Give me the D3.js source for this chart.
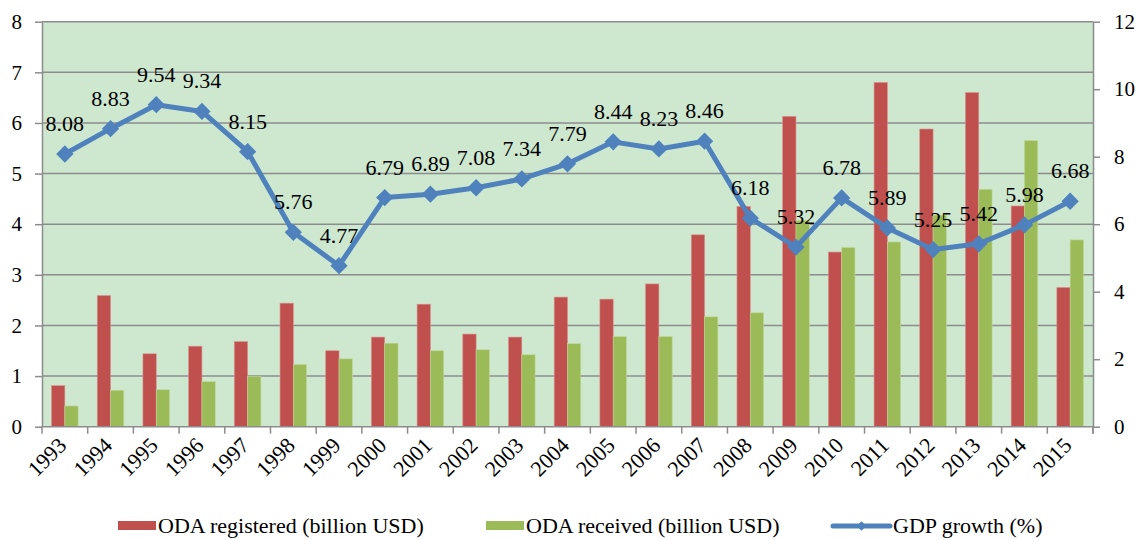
<!DOCTYPE html>
<html>
<head>
<meta charset="utf-8">
<script src="https://cdn.jsdelivr.net/npm/d3@7"></script>
<style>
  body { margin: 0; background: #fff; }
  svg text { font-family: "Liberation Serif", "Tinos", "Times New Roman", "DejaVu Serif", serif !important; fill: #000; }
  .domain { stroke: #8c8c8c; stroke-width: 1.5; }
  .tick line { stroke: #8c8c8c; stroke-width: 1.5; }
</style>
</head>
<body>
<div id="chart"></div>
<script>
// data
var years = ["1993", "1994", "1995", "1996", "1997", "1998", "1999", "2000", "2001", "2002", "2003",
  "2004", "2005", "2006", "2007", "2008", "2009", "2010", "2011", "2012", "2013", "2014", "2015"];
var odaRegistered = [0.81, 2.59, 1.44, 1.59, 1.68, 2.44, 1.50, 1.77, 2.42, 1.83, 1.77,
  2.56, 2.52, 2.82, 3.79, 4.35, 6.13, 3.45, 6.80, 5.88, 6.60, 4.36, 2.75];
var odaReceived = [0.41, 0.72, 0.73, 0.89, 0.99, 1.23, 1.34, 1.65, 1.50, 1.52, 1.42,
  1.64, 1.78, 1.78, 2.17, 2.25, 4.07, 3.54, 3.65, 4.18, 4.69, 5.65, 3.69];
var gdpGrowth = [8.08, 8.83, 9.54, 9.34, 8.15, 5.76, 4.77, 6.79, 6.89, 7.08, 7.34,
  7.79, 8.44, 8.23, 8.46, 6.18, 5.32, 6.78, 5.89, 5.25, 5.42, 5.98, 6.68];
var leftTicks = [0, 1, 2, 3, 4, 5, 6, 7, 8];
var rightTicks = [0, 2, 4, 6, 8, 10, 12];
var seriesNames = ["ODA registered (billion USD)", "ODA received (billion USD)", "GDP growth (%)"];

var svgWidth = 1139;
var svgHeight = 540;
var margin = { top: 21.7, right: 46, bottom: 113.3, left: 42 };
var width = svgWidth - margin.left - margin.right;
var height = svgHeight - margin.top - margin.bottom;

var colors = { reg: "#C0504D", rec: "#9BBB59", gdp: "#4F81BD" };

var svg = d3.select("#chart").append("svg")
  .attr("width", svgWidth)
  .attr("height", svgHeight);

var chartGroup = svg.append("g")
  .attr("transform", `translate(${margin.left}, ${margin.top})`);

// scales
var x0 = d3.scaleBand().domain(years).range([0, width]).paddingInner(0.418).paddingOuter(0.209);
var x1 = d3.scaleBand().domain(["reg", "rec"]).range([0, x0.bandwidth()]);
var yLeft = d3.scaleLinear().domain([0, 8]).range([height, 0]);
var yRight = d3.scaleLinear().domain([0, 12]).range([height, 0]);
var step = x0.step();
var xc = d => x0(d) + x0.bandwidth() / 2;

// plot background
chartGroup.append("rect")
  .attr("width", width)
  .attr("height", height)
  .attr("fill", "#CDE8CF");

// gridlines
chartGroup.append("g").selectAll("line")
  .data(leftTicks.slice(1))
  .enter()
  .append("line")
  .attr("x1", 0)
  .attr("x2", width)
  .attr("y1", d => yLeft(d))
  .attr("y2", d => yLeft(d))
  .attr("stroke", "#8c8c8c")
  .attr("stroke-width", 1.5);

// bars
var groups = chartGroup.selectAll(".yr")
  .data(years)
  .enter()
  .append("g")
  .attr("transform", d => `translate(${x0(d)}, 0)`);

groups.append("rect")
  .attr("x", x1("reg"))
  .attr("width", x1.bandwidth())
  .attr("y", (d, i) => yLeft(odaRegistered[i]))
  .attr("height", (d, i) => height - yLeft(odaRegistered[i]))
  .attr("fill", colors.reg)
  .attr("stroke", "#d98f8d")
  .attr("stroke-width", 0.6);

groups.append("rect")
  .attr("x", x1("rec"))
  .attr("width", x1.bandwidth())
  .attr("y", (d, i) => yLeft(odaReceived[i]))
  .attr("height", (d, i) => height - yLeft(odaReceived[i]))
  .attr("fill", colors.rec)
  .attr("stroke", "#c2d89a")
  .attr("stroke-width", 0.6);

// axes
var leftAxis = d3.axisLeft(yLeft).tickValues(leftTicks).tickSize(7).tickSizeOuter(0).tickPadding(13);
var rightAxis = d3.axisRight(yRight).tickValues(rightTicks).tickSize(7).tickSizeOuter(0).tickPadding(14);
var bottomAxis = d3.axisBottom(x0).tickSize(7).tickSizeOuter(0);

var yAxisL = chartGroup.append("g").call(leftAxis);
var yAxisR = chartGroup.append("g")
  .attr("transform", `translate(${width}, 0)`)
  .call(rightAxis);
[yAxisL, yAxisR].forEach(function(a) {
  a.attr("font-family", null);
  a.selectAll("text").style("font-size", "21px");
});

var xAxis = chartGroup.append("g")
  .attr("transform", `translate(0, ${height})`)
  .call(bottomAxis);
xAxis.attr("font-family", null);
xAxis.selectAll(".tick line")
  .attr("x1", step / 2)
  .attr("x2", step / 2);
xAxis.selectAll("text")
  .style("font-size", "22px")
  .attr("text-anchor", "end")
  .attr("dy", null)
  .attr("y", 0)
  .attr("transform", "translate(3, 20) rotate(-45)");
xAxis.select(".domain").attr("d", `M0,7V0H${width}V7`);

// GDP line
var line = d3.line()
  .x((d, i) => xc(years[i]))
  .y(d => yRight(d));

chartGroup.append("path")
  .datum(gdpGrowth)
  .attr("d", line)
  .attr("fill", "none")
  .attr("stroke", colors.gdp)
  .attr("stroke-width", 5)
  .attr("stroke-linejoin", "round");

var diamond = d3.symbol().type(d3.symbolDiamond2).size(190);
chartGroup.selectAll(".pt")
  .data(gdpGrowth)
  .enter()
  .append("path")
  .attr("d", diamond)
  .attr("transform", (d, i) => `translate(${xc(years[i])}, ${yRight(d)})`)
  .attr("fill", colors.gdp);

chartGroup.selectAll(".lbl")
  .data(gdpGrowth)
  .enter()
  .append("text")
  .attr("x", (d, i) => xc(years[i]))
  .attr("y", d => yRight(d) - 23)
  .attr("text-anchor", "middle")
  .style("font-size", "22px")
  .text(d => d.toFixed(2));

// legend
var legend = svg.append("g").attr("transform", "translate(0, 526)");
var legendX = [118, 486, 833];

legend.append("rect")
  .attr("x", legendX[0]).attr("y", -5).attr("width", 38).attr("height", 9)
  .attr("fill", colors.reg);
legend.append("rect")
  .attr("x", legendX[1]).attr("y", -5).attr("width", 38).attr("height", 9)
  .attr("fill", colors.rec);
legend.append("line")
  .attr("x1", legendX[2]).attr("x2", legendX[2] + 57)
  .attr("y1", 0).attr("y2", 0)
  .attr("stroke", colors.gdp).attr("stroke-width", 5).attr("stroke-linecap", "round");
legend.append("path")
  .attr("d", d3.symbol().type(d3.symbolDiamond2).size(60))
  .attr("transform", `translate(${legendX[2] + 28.5}, 0)`)
  .attr("fill", colors.gdp);

legend.selectAll(".ltxt")
  .data(seriesNames)
  .enter()
  .append("text")
  .attr("x", (d, i) => legendX[i] + (i === 2 ? 60 : 40))
  .attr("y", 7)
  .style("font-size", "22px")
  .text(d => d);
</script>
</body>
</html>
